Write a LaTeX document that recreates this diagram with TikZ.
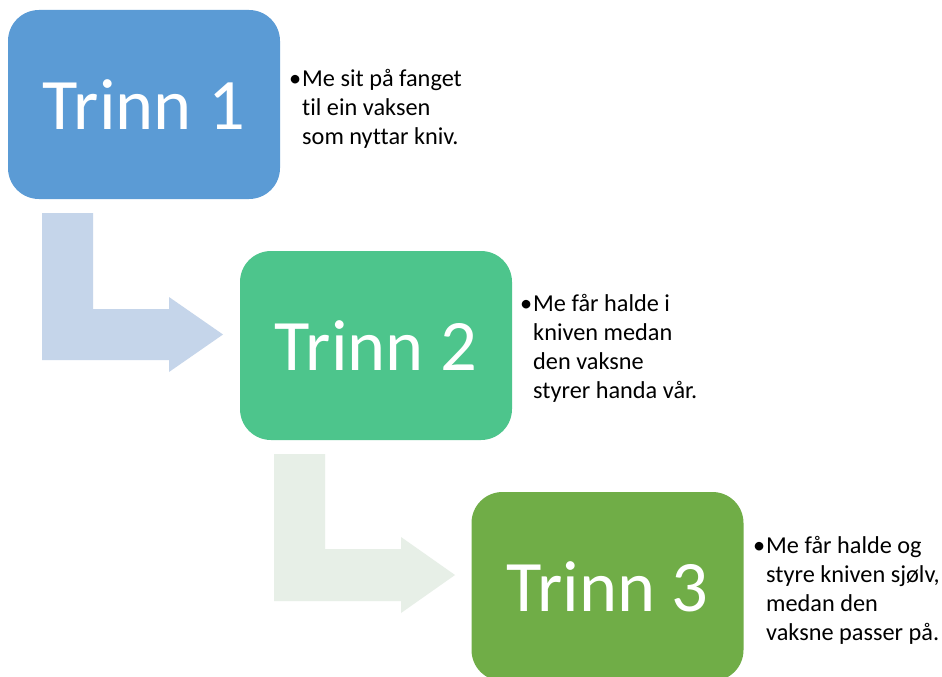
\documentclass[tikz,border=0pt]{standalone}
\usepackage{fontspec}
\setmainfont[Ligatures={NoCommon}]{Carlito}
\definecolor{trinnA}{HTML}{5B9BD5}
\definecolor{trinnB}{HTML}{4DC58C}
\definecolor{trinnC}{HTML}{70AD47}
\definecolor{pilA}{HTML}{C5D5EA}
\definecolor{pilB}{HTML}{E7EFE7}
\newcommand{\punkt}[1]{\vtop{\baselineskip=29pt #1}}
\begin{document}
\begin{tikzpicture}[x=1pt,y=-1pt,
  trinnbox/.style={rounded corners=31pt, inner sep=0pt, minimum width=272pt,
    minimum height=189pt, text=white, font=\fontsize{72.5}{72.5}\selectfont},
  desc/.style={anchor=base west, inner sep=0pt, font=\fontsize{24.3}{29}\selectfont}]
\clip (0,0) rectangle (942,677);
\fill[white] (0,0) rectangle (942,677);
% bent arrows
\fill[pilA] (42,213) -- (93,213) -- (93,309) -- (169,309) -- (169,297) -- (223,334.5)
  -- (169,372) -- (169,360) -- (42,360) -- cycle;
\fill[pilB] (274,454) -- (325,454) -- (325,549) -- (401,549) -- (401,537) -- (455,575)
  -- (401,613) -- (401,601) -- (274,601) -- cycle;
% boxes
\node[trinnbox, fill=trinnA] (t1) at (144,104.5) {Trinn 1};
\node[trinnbox, fill=trinnB] (t2) at (376,345.5) {Trinn 2};
\node[trinnbox, fill=trinnC] (t3) at (607.5,586.5) {Trinn 3};
% descriptions
\node[desc] (d1) at (302,86) {\punkt{\hbox{\llap{•\hskip1pt}Me sit på fanget}\hbox{til ein vaksen}\hbox{som nyttar kniv.}}};
\node[desc] (d2) at (533,311) {\punkt{\hbox{\llap{•\hskip1pt}Me får halde i}\hbox{kniven medan}\hbox{den vaksne}\hbox{styrer handa vår.}}};
\node[desc] (d3) at (766,553) {\punkt{\hbox{\llap{•\hskip1pt}Me får halde og}\hbox{styre kniven sjølv,}\hbox{medan den}\hbox{vaksne passer på.}}};
\end{tikzpicture}
\end{document}
